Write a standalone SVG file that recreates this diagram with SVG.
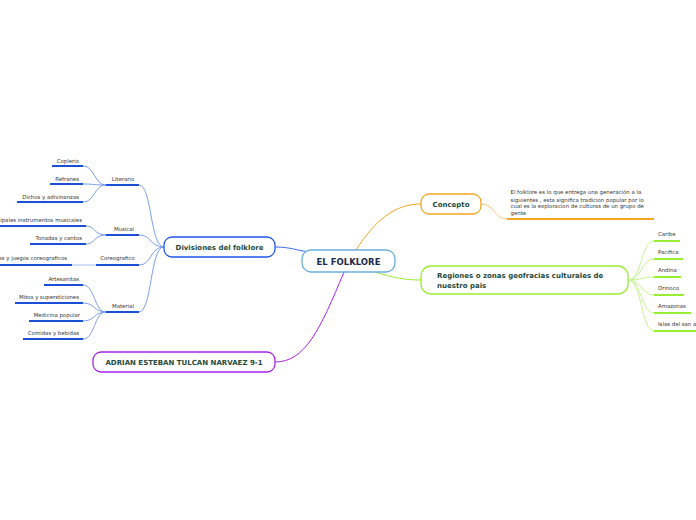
<svg xmlns="http://www.w3.org/2000/svg" width="696" height="520" viewBox="0 0 696 520">
<style>
text{font-family:"DejaVu Sans","Verdana",sans-serif}
.main{font-weight:bold;font-size:7px;fill:#1e4a3c;text-anchor:middle}
.main.l{text-anchor:start}
.leaf{font-size:5.4px;fill:#333}
.leaf.r{text-anchor:end}
.leaf.m{text-anchor:middle}
.c{fill:none;stroke-width:1}
.ul{fill:none;stroke-width:2}
.node{fill:#fff;stroke-width:1.3}
</style>
<rect width="696" height="520" fill="#fff"/>
<g id="connectors">
<path class="c" stroke="#3a6af0" d="M275,247 C290,247 295,250 309,252"/>
<path class="c" stroke="#f5a623" stroke-width="1.3" d="M356,250 C375,220 395,204 421,204"/>
<path class="c" stroke="#99ee33" stroke-width="1.3" d="M375,272 C395,278 405,280 421,280"/>
<path class="c" stroke="#aa22ee" stroke-width="1.3" d="M344,272 C320,330 305,362 275,362"/>
<g stroke="#7a9ff2">
<path class="c" d="M164,247 C150,247 152,185 139,185"/>
<path class="c" d="M164,247 C150,247 152,235 139,235"/>
<path class="c" d="M164,247 C150,247 152,265 139,265"/>
<path class="c" d="M164,247 C150,247 152,312 139,312"/>
<path class="c" d="M106,185 C94,185 95,166 83,166"/>
<path class="c" d="M106,185 C94,185 95,184 83,184"/>
<path class="c" d="M106,185 C94,185 95,202 83,202"/>
<path class="c" d="M106,235 C94,235 95,226 86,226"/>
<path class="c" d="M106,235 C94,235 95,244 86,244"/>
<path class="c" stroke="#a9c0f5" stroke-width="2" d="M72,265 L96,265"/>
<path class="c" d="M106,312 C94,312 95,285 83,285"/>
<path class="c" d="M106,312 C94,312 95,303 83,303"/>
<path class="c" d="M106,312 C94,312 95,321 83,321"/>
<path class="c" d="M106,312 C94,312 95,339 83,339"/>
</g>
<path class="c" stroke="#ffc870" d="M481,204 C495,204 494,219 507,219"/>
<g stroke="#c4f590">
<path class="c" d="M628,280 C642,280 641,241 654,241"/>
<path class="c" d="M628,280 C642,280 641,259 654,259"/>
<path class="c" d="M628,280 C642,280 641,277 654,277"/>
<path class="c" d="M628,280 C642,280 641,295 654,295"/>
<path class="c" d="M628,280 C642,280 641,313 654,313"/>
<path class="c" d="M628,280 C642,280 641,331 654,331"/>
</g>
</g>
<g id="root">
<rect class="node" x="302" y="250" width="93" height="22" rx="9" stroke="#6aaee0" stroke-width="1.5"/>
<text x="348.5" y="264.5" text-anchor="middle" font-weight="bold" font-size="8.5" fill="#1a2a4a">EL FOLKLORE</text>
</g>
<g id="divisiones">
<rect class="node" x="164" y="237" width="111" height="20" rx="8" stroke="#2255ee"/>
<text class="main" x="219.5" y="249.5">Divisiones del folklore</text>
</g>
<g id="concepto">
<rect class="node" x="421" y="194" width="60" height="20" rx="8" stroke="#f5a623"/>
<text class="main" x="451" y="206.5">Concepto</text>
</g>
<g id="regiones">
<rect class="node" x="421" y="266" width="207" height="28" rx="10" stroke="#99ee33"/>
<text class="main l" x="437" y="277.5">Regiones o zonas geofracias culturales de</text>
<text class="main l" x="437" y="287.5">nuestro pais</text>
</g>
<g id="adrian">
<rect class="node" x="93" y="352" width="182" height="20" rx="8" stroke="#aa22ee"/>
<text class="main" x="184" y="364.5">ADRIAN ESTEBAN TULCAN NARVAEZ 9-1</text>
</g>
<g id="literario"><path class="ul" stroke="#1a4fd6" d="M106,185 H139"/><text class="leaf m" x="123" y="181">Literario</text></g>
<g id="musical"><path class="ul" stroke="#1a4fd6" d="M106,235 H139"/><text class="leaf m" x="124" y="231">Musical</text></g>
<g id="coreografico"><path class="ul" stroke="#1a4fd6" d="M96,265 H139"/><text class="leaf m" x="117.5" y="260">Coreografico</text></g>
<g id="material"><path class="ul" stroke="#1a4fd6" d="M106,312 H139"/><text class="leaf m" x="123" y="308">Material</text></g>
<g id="coplerio"><path class="ul" stroke="#1a4fd6" d="M52,166 H83"/><text class="leaf r" x="79" y="162.5">Coplerio</text></g>
<g id="refranes"><path class="ul" stroke="#1a4fd6" d="M50,184 H83"/><text class="leaf r" x="79" y="180.5">Refranes</text></g>
<g id="dichos"><path class="ul" stroke="#1a4fd6" d="M17,202 H83"/><text class="leaf r" x="79" y="198.5">Dichos y adivinanzas</text></g>
<g id="instrumentos"><path class="ul" stroke="#1a4fd6" d="M0,226 H86"/><text class="leaf r" x="82" y="221.5">Principales instrumentos musicales</text></g>
<g id="tonadas"><path class="ul" stroke="#1a4fd6" d="M30,244 H86"/><text class="leaf r" x="82" y="239.5">Tonadas y cantos</text></g>
<g id="danzas"><path class="ul" stroke="#1a4fd6" d="M0,265 H72"/><text class="leaf r" x="67" y="260">Danzas y juegos coreograficos</text></g>
<g id="artesanitas"><path class="ul" stroke="#1a4fd6" d="M44,285 H83"/><text class="leaf r" x="79" y="281">Artesanitas</text></g>
<g id="mitos"><path class="ul" stroke="#1a4fd6" d="M15,303 H83"/><text class="leaf r" x="79" y="299">Mitos y supersticiones</text></g>
<g id="medicina"><path class="ul" stroke="#1a4fd6" d="M29,321 H83"/><text class="leaf r" x="80" y="317">Medicina popular</text></g>
<g id="comidas"><path class="ul" stroke="#1a4fd6" d="M23,339 H83"/><text class="leaf r" x="79" y="335">Comidas y bebidas</text></g>
<g id="definicion">
<path class="ul" stroke="#f5a623" d="M507,219 H654"/>
<text class="leaf" x="510.5" y="194">El folklore es lo que entrega una generación a la</text>
<text class="leaf" x="510.5" y="201.5">siguientes , esta significa tradicion popular por lo</text>
<text class="leaf" x="510.5" y="208">cual es la exploracion de culturas de un grupo de</text>
<text class="leaf" x="510.5" y="215">gente</text>
</g>
<g id="caribe"><path class="ul" stroke="#99ee33" d="M654,241 H680"/><text class="leaf" x="658" y="236">Caribe</text></g>
<g id="pacifica"><path class="ul" stroke="#99ee33" d="M654,259 H683"/><text class="leaf" x="658" y="254">Pacifica</text></g>
<g id="andina"><path class="ul" stroke="#99ee33" d="M654,277 H681"/><text class="leaf" x="658" y="272">Andina</text></g>
<g id="orinoco"><path class="ul" stroke="#99ee33" d="M654,295 H684"/><text class="leaf" x="658" y="290">Orinoco</text></g>
<g id="amazonas"><path class="ul" stroke="#99ee33" d="M654,313 H691"/><text class="leaf" x="658" y="308">Amazonas</text></g>
<g id="islas"><path class="ul" stroke="#99ee33" d="M654,331 H696"/><text class="leaf" x="658" y="326">Islas del san andres</text></g>
</svg>
